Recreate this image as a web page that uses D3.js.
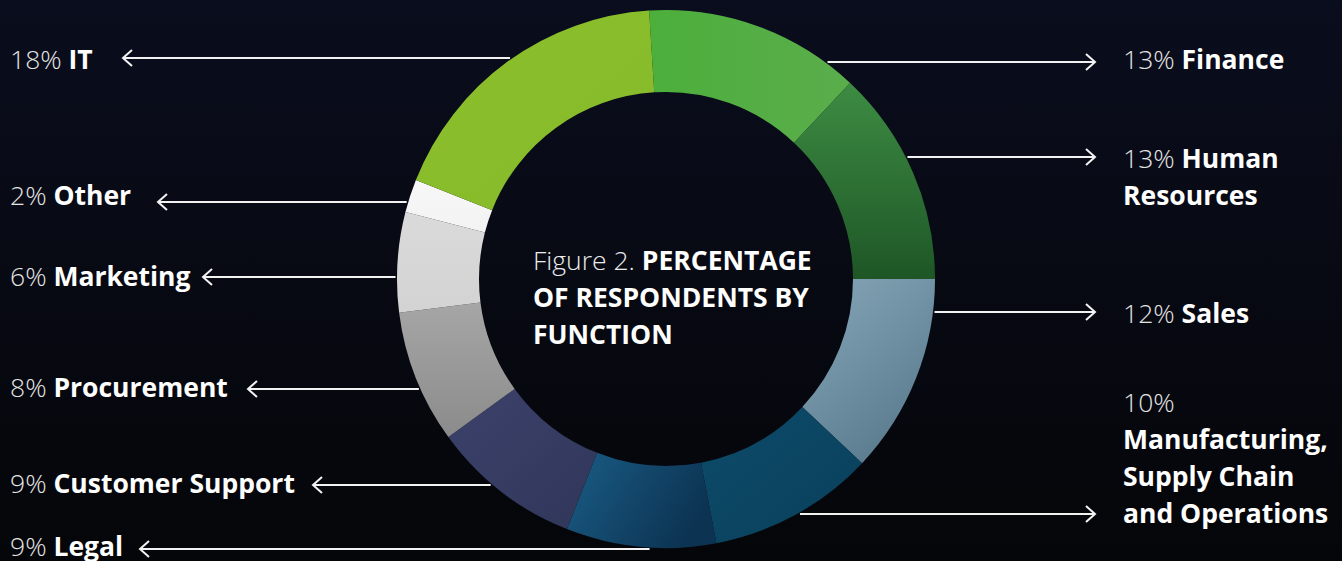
<!DOCTYPE html>
<html>
<head>
<meta charset="utf-8">
<script src="https://cdn.jsdelivr.net/npm/d3@7"></script>
<style>
  html, body { margin: 0; padding: 0; background: #07091a; }
  svg { display: block; }
</style>
</head>
<body>
<svg id="chart" width="1342" height="561"></svg>
<script>
// ---- Data ----
const categories = ["Finance", "Human Resources", "Sales", "Manufacturing, Supply Chain and Operations",
  "Legal", "Customer Support", "Procurement", "Marketing", "Other", "IT"];
const values = [13, 13, 12, 10, 9, 9, 8, 6, 2, 18];
// label text, split into lines (first line gets the percentage in front)
const labelLines = [
  ["Finance"], ["Human", "Resources"], ["Sales"], ["", "Manufacturing,", "Supply Chain", "and Operations"],
  ["Legal"], ["Customer Support"], ["Procurement"], ["Marketing"], ["Other"], ["IT"]
];
const titleLines = [["Figure 2. ", "PERCENTAGE"], ["", "OF RESPONDENTS BY"], ["", "FUNCTION"]];

// ---- Styles / layout ----
// gradient stops [from, to] and direction per segment
const colorFrom = ["#4caf3b", "#3d8c43", "#87a7b9", "#0d4c6b", "#1a5d86", "#3b416a", "#a6a6a6", "#dadada", "#f7f7f7", "#8cbf2a"];
const colorTo   = ["#5bad4c", "#1e5626", "#5a7b8e", "#093f5a", "#0c3352", "#31375a", "#8b8b8b", "#d3d3d3", "#f3f3f3", "#85ba2c"];
const gradDir   = [[0,0,1,0], [0,0,0,1], [0,0,0.6,1], [0,0,1,1], [0,0,1,0.4], [0,0,1,1], [0,0,0,1], [0,0,0,1], [0,0,0,1], [0,0,1,1]];
const side = ["right", "right", "right", "right", "left", "left", "left", "left", "left", "left"];
const lineY = [62, 157, 312, 514, 549, 485, 389, 277, 202, 58];
const textY = [69, 168, 323, 412, 556, 493, 397, 286, 205, 69];
const leftTipX = [null, null, null, null, 140, 313, 248, 203, 158, 123];

const W = 1342, H = 561;
const cx = 666, cy = 279, rOuter = 269, rInner = 187;
const rightTipX = 1095, rightTextX = 1123, leftTextX = 10;
const fontSize = 26.5, titleSize = 26.5, lineH = 37;

const svg = d3.select("#chart");
const defs = svg.append("defs");
const bg = defs.append("linearGradient").attr("id", "bg").attr("x1", 0).attr("y1", 0).attr("x2", 0).attr("y2", 1);
bg.append("stop").attr("offset", "0%").attr("stop-color", "#0a0d1d");
bg.append("stop").attr("offset", "100%").attr("stop-color", "#050609");
svg.append("rect").attr("width", W).attr("height", H).attr("fill", "url(#bg)");

categories.forEach((c, i) => {
  const g = defs.append("linearGradient").attr("id", "seg" + i)
    .attr("x1", gradDir[i][0]).attr("y1", gradDir[i][1]).attr("x2", gradDir[i][2]).attr("y2", gradDir[i][3]);
  g.append("stop").attr("offset", "0%").attr("stop-color", colorFrom[i]);
  g.append("stop").attr("offset", "100%").attr("stop-color", colorTo[i]);
});

const deg = Math.PI / 180;
const pie = d3.pie().sort(null).value(d => d).startAngle(-3.6 * deg).endAngle(356.4 * deg);
const arcs = pie(values);
const arc = d3.arc().innerRadius(rInner).outerRadius(rOuter);

// Leader lines (under donut)
const lineR = 270.5;
const lines = svg.append("g").attr("stroke", "#f2f2f2").attr("stroke-width", 2).attr("fill", "none");
categories.forEach((c, i) => {
  const y = lineY[i];
  const dy = y - cy;
  const dx = Math.sqrt(Math.max(lineR * lineR - dy * dy, 0));
  if (side[i] === "right") {
    const x0 = cx + dx, x1 = rightTipX;
    lines.append("line").attr("x1", x0).attr("y1", y).attr("x2", x1).attr("y2", y);
    lines.append("path").attr("d", `M${x1 - 9},${y - 8}L${x1},${y}L${x1 - 9},${y + 8}`);
  } else {
    const x0 = cx - dx, x1 = leftTipX[i];
    lines.append("line").attr("x1", x0).attr("y1", y).attr("x2", x1).attr("y2", y);
    lines.append("path").attr("d", `M${x1 + 9},${y - 8}L${x1},${y}L${x1 + 9},${y + 8}`);
  }
});

// Donut
svg.append("g").attr("transform", `translate(${cx},${cy})`)
  .selectAll("path").data(arcs).join("path")
  .attr("d", arc)
  .attr("fill", (d, i) => `url(#seg${i})`);

// Center title
const titleG = svg.append("g").attr("font-family", "'Open Sans', sans-serif").attr("font-size", titleSize);
titleLines.forEach((ln, k) => {
  const t = titleG.append("text").attr("x", 533).attr("y", 270 + k * lineH);
  if (ln[0]) t.append("tspan").attr("font-weight", 300).attr("fill", "#ececec").text(ln[0]);
  t.append("tspan").attr("font-weight", 700).attr("fill", "#ffffff").text(ln[1]);
});

// Labels
const labels = svg.append("g").attr("font-family", "'Open Sans', sans-serif").attr("font-size", fontSize);
categories.forEach((c, i) => {
  const x = side[i] === "right" ? rightTextX : leftTextX;
  labelLines[i].forEach((ln, k) => {
    const t = labels.append("text").attr("x", x).attr("y", textY[i] + k * lineH);
    if (k === 0) {
      t.append("tspan").attr("font-weight", 300).attr("fill", "#e4e4e4").text(values[i] + "%" + (ln ? " " : ""));
      if (ln) t.append("tspan").attr("font-weight", 700).attr("fill", "#ffffff").text(ln);
    } else {
      t.append("tspan").attr("font-weight", 700).attr("fill", "#ffffff").text(ln);
    }
  });
});
</script>
</body>
</html>
